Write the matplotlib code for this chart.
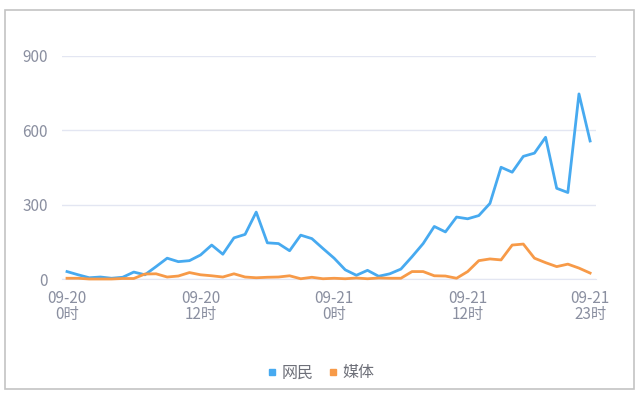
import matplotlib
matplotlib.use("Agg")
import matplotlib.pyplot as plt
from matplotlib.patches import Rectangle
from matplotlib.lines import Line2D

plt.rcParams['font.family'] = ['Noto Sans CJK SC', 'DejaVu Sans']

hours = list(range(48))
netizens = [30, 17, 5, 8, 3, 7, 28, 17, 50, 84, 70, 74, 97, 137, 100, 166, 180, 270,
            146, 143, 114, 177, 163, 123, 84, 37, 15, 35, 11, 21, 40, 90, 143, 212,
            190, 250, 243, 256, 305, 451, 431, 495, 508, 572, 366, 349, 747, 557]
media = [3, 3, 0, 0, 0, 2, 2, 20, 21, 8, 12, 26, 17, 13, 8, 21, 8, 5,
         7, 8, 13, 1, 7, 1, 3, 1, 4, 1, 4, 3, 3, 30, 30, 13, 12, 3, 30, 74,
         81, 77, 137, 141, 84, 66, 50, 60, 44, 24]
tick_pos = [0, 12, 24, 36, 47]
tick_labels = ["09-20\n0时", "09-20\n12时", "09-21\n0时", "09-21\n12时", "09-21\n23时"]
y_ticks = [0, 300, 600, 900]
series_names = ["网民", "媒体"]
colors = ["#47aaf0", "#f79a48"]

W, H = 643, 395
fig = plt.figure(figsize=(W / 100, H / 100), dpi=100)
fig.patch.set_facecolor("white")

# outer border
fig.add_artist(Rectangle((5 / W, 1 - 389 / H), (634 - 5) / W, (389 - 10) / H,
                         transform=fig.transFigure, fill=False,
                         edgecolor="#c4c4c4", linewidth=1.2))

ax = fig.add_axes([62 / W, 1 - 279 / H, (596 - 62) / W, (279 - 56) / H])
ax.set_xlim(-0.45, 47.53)
ax.set_ylim(0, 900)

ax.plot(hours, netizens, color=colors[0], lw=2, clip_on=False, zorder=3)
ax.plot(hours, media, color=colors[1], lw=2, clip_on=False, zorder=3)

ax.set_yticks(y_ticks)
ax.set_yticklabels([str(v) for v in y_ticks])
ax.set_xticks(tick_pos)
ax.set_xticklabels(tick_labels, linespacing=0.95)
ax.yaxis.grid(True, color="#e3e6f2", linewidth=1)
ax.set_axisbelow(True)
for s in ["top", "right", "left"]:
    ax.spines[s].set_visible(False)
ax.spines["bottom"].set_color("#e3e6f2")
ax.tick_params(axis="both", length=0, colors="#8a8fa0", labelsize=11)
ax.tick_params(axis="y", pad=10)
ax.tick_params(axis="x", pad=8)

handles = [Line2D([], [], marker="s", linestyle="none", markersize=5,
                  markerfacecolor=c, markeredgecolor=c) for c in colors]
leg = fig.legend(handles, series_names, loc="center", bbox_to_anchor=(320 / W, 1 - 373 / H),
                 ncol=2, frameon=False, handletextpad=0.2, columnspacing=0.8,
                 handlelength=0.8, fontsize=11.5)
for t in leg.get_texts():
    t.set_color("#6e7079")

fig.savefig("out.png", dpi=100, facecolor="white")
